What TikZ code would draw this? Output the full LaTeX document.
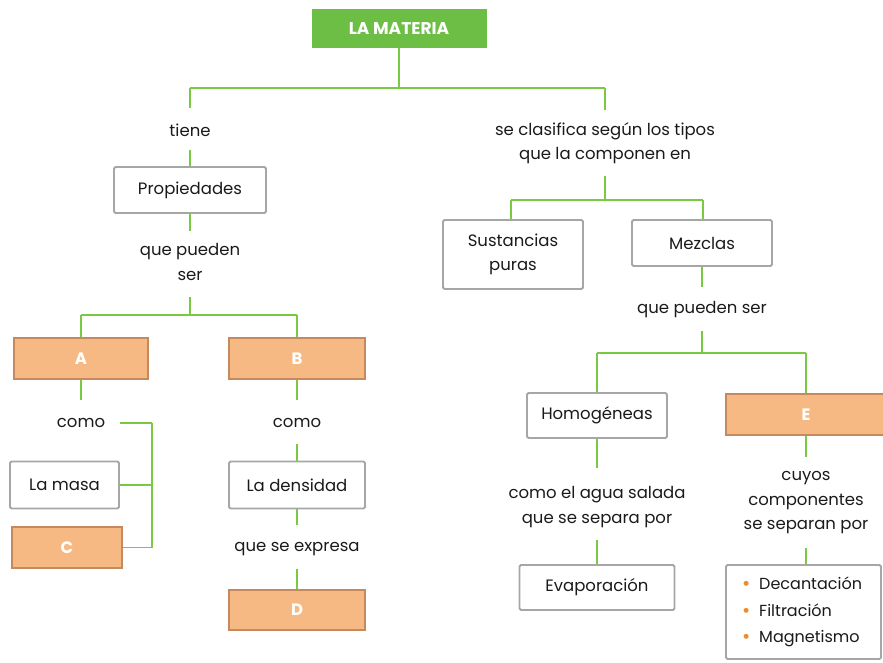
\documentclass[tikz,border=0pt]{standalone}
\usepackage{fontspec}
\setmainfont{Poppins}
\usetikzlibrary{calc}
\definecolor{lgreen}{HTML}{7AC943}
\definecolor{hgreen}{HTML}{6DBE45}
\definecolor{boxgray}{HTML}{A6A6A6}
\definecolor{orfill}{HTML}{F6B983}
\definecolor{orbrd}{HTML}{C48A5E}
\definecolor{bul}{HTML}{F08A2C}
\definecolor{txt}{HTML}{1A1A1A}
\newcommand{\lblfont}{\fontsize{16.5}{24.5}\selectfont}
\newcommand{\orbul}{\hspace*{11pt}{\color{bul}\fontsize{20}{20}\selectfont\raisebox{-1pt}{•}}}
\begin{document}
\begin{tikzpicture}[x=1pt,y=-1pt,
  lbl/.style={font=\lblfont, text=txt, align=center, inner sep=0pt},
  wbox/.style={draw=boxgray, line width=1.8pt, fill=white, align=center, font=\lblfont, text=txt, rounded corners=1.5pt, inner sep=0pt},
  obox/.style={draw=orbrd, line width=1.3pt, fill=orfill, font=\lblfont\bfseries, text=white, inner sep=0pt},
  link/.style={draw=lgreen, line width=1.6pt}]
\useasboundingbox (0,0) rectangle (883,662);

% title
\node[fill=hgreen, minimum width=175pt, minimum height=39pt, inner sep=0pt, font=\fontsize{17}{20}\selectfont\bfseries, text=white] (mat) at (399,28.5) {LA MATERIA};

% left branch
\node[lbl] (tiene) at (190,130) {tiene};
\node[wbox, minimum width=152pt, minimum height=46pt] (prop) at (190,190) {Propiedades};
\node[lbl] (pued) at (190,262) {que pueden\\ser};
\node[obox, minimum width=134pt, minimum height=41pt] (A) at (81,358.5) {A};
\node[obox, minimum width=136pt, minimum height=41pt] (B) at (297,358.5) {B};
\node[lbl] (como1) at (81,423) {como};
\node[wbox, minimum width=109pt, minimum height=47pt] (masa) at (64.5,485) {La masa};
\node[obox, minimum width=110pt, minimum height=41pt] (C) at (67,547.5) {C};
\node[lbl] (como2) at (297,423) {como};
\node[wbox, minimum width=136pt, minimum height=47pt] (dens) at (297,485) {La densidad};
\node[lbl] (expr) at (297,549) {que se expresa};
\node[obox, minimum width=136pt, minimum height=40pt] (D) at (297,610) {D};

% right branch
\node[lbl] (clas) at (605,143) {se clasifica según los tipos\\que la componen en};
\node[wbox, minimum width=140pt, minimum height=69pt] (sust) at (513,254.5) {Sustancias\\puras};
\node[wbox, minimum width=140pt, minimum height=46pt] (mezc) at (702,243) {Mezclas};
\node[lbl] (pued2) at (702,310) {que pueden ser};
\node[wbox, minimum width=140pt, minimum height=45pt] (homo) at (597,415.5) {Homogéneas};
\node[obox, minimum width=160pt, minimum height=41pt] (E) at (806,414.5) {E};
\node[lbl] (agua) at (597,507) {como el agua salada\\que se separa por};
\node[wbox, minimum width=155pt, minimum height=45pt] (evap) at (597,587.5) {Evaporación};
\node[lbl] (cuyos) at (806,503) {cuyos\\componentes\\se separan por};
\node[wbox, minimum width=155pt, minimum height=94pt, text width=145pt, align=left, font=\fontsize{16}{26.5}\selectfont] (lista) at (803.5,612) {\orbul\hspace{9pt}Decantación\\\orbul\hspace{9pt}Filtración\\\orbul\hspace{9pt}Magnetismo};

% connector stubs
\coordinate (top) at (399,88);
\coordinate (lft) at (190,88);
\coordinate (rgt) at (605,88);
\coordinate (tieneT) at (190,108);
\coordinate (tieneB) at (190,150);
\coordinate (pruedT) at (190,231);
\coordinate (pruedB) at (190,297);
\coordinate (ab) at (190,315);
\coordinate (abL) at (81,315);
\coordinate (abR) at (297,315);
\coordinate (como1T) at (81,400);
\coordinate (como1R) at (120,423);
\coordinate (brT) at (152,423);
\coordinate (brM) at (152,485);
\coordinate (brB) at (152,547.5);
\coordinate (como2T) at (297,400);
\coordinate (como2B) at (297,444);
\coordinate (exprT) at (297,525);
\coordinate (exprB) at (297,569);
\coordinate (clasT) at (605,110);
\coordinate (clasB) at (605,176);
\coordinate (sm) at (605,200);
\coordinate (smL) at (511,200);
\coordinate (smR) at (703,200);
\coordinate (pued2T) at (702,287);
\coordinate (pued2B) at (702,331);
\coordinate (he) at (702,353);
\coordinate (heL) at (597,353);
\coordinate (heR) at (806,353);
\coordinate (aguaT) at (597,468);
\coordinate (aguaB) at (597,540);
\coordinate (cuyosT) at (806,457);
\coordinate (cuyosB) at (806,548);

% connectors
\draw[link] (mat.south) -- (top);
\draw[link] (lft) -- (rgt);
\draw[link] (lft) -- (tieneT);
\draw[link] (rgt) -- (clasT);
\draw[link] (tieneB) -- (prop.north);
\draw[link] (prop.south) -- (pruedT);
\draw[link] (pruedB) -- (ab);
\draw[link] (abL) -- (abR);
\draw[link] (abL) -- (A.north);
\draw[link] (abR) -- (B.north);
\draw[link] (A.south) -- (como1T);
\draw[link] (como1R) -- (brT);
\draw[link] (brT) -- (brB);
\draw[link] (masa.east) -- (brM);
\draw[link] (C.east) -- (brB);
\draw[link] (B.south) -- (como2T);
\draw[link] (como2B) -- (dens.north);
\draw[link] (dens.south) -- (exprT);
\draw[link] (exprB) -- (D.north);
\draw[link] (clasB) -- (sm);
\draw[link] (smL) -- (smR);
\draw[link] (smL) -- (sust.north -| smL);
\draw[link] (smR) -- (mezc.north -| smR);
\draw[link] (mezc.south -| pued2T) -- (pued2T);
\draw[link] (pued2B) -- (he);
\draw[link] (heL) -- (heR);
\draw[link] (heL) -- (homo.north);
\draw[link] (heR) -- (E.north);
\draw[link] (homo.south) -- (aguaT);
\draw[link] (aguaB) -- (evap.north);
\draw[link] (E.south) -- (cuyosT);
\draw[link] (cuyosB) -- (lista.north -| cuyosB);
\end{tikzpicture}
\end{document}
